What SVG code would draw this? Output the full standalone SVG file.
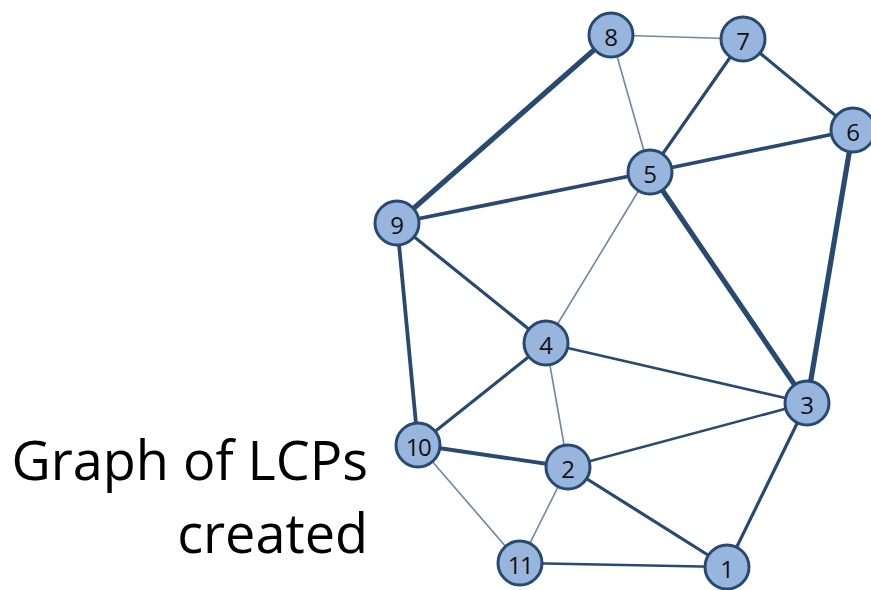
<svg xmlns="http://www.w3.org/2000/svg" width="871" height="590" viewBox="0 0 871 590">
  <style>
    .e { stroke: #284a70; stroke-linecap: round; fill: none; }
    .w1 { stroke: #6c87a8; stroke-width: 1.6; }
    .w2 { stroke-width: 2.6; }
    .w3 { stroke-width: 3.2; }
    .w4 { stroke-width: 3.8; }
    .w5 { stroke-width: 5.2; }
    .node circle { fill: #98b5dd; stroke: #284a70; stroke-width: 3; }
    .node text { font-family: "Open Sans", "Liberation Sans", sans-serif; font-size: 24px; fill: #111; text-anchor: middle; dominant-baseline: central; }
    .label { font-family: "Open Sans", "Liberation Sans", sans-serif; font-size: 54px; fill: #000; text-anchor: end; }
  </style>

  <g id="edges">
    <line class="e w1" x1="611" y1="35" x2="743" y2="39"/>
    <line class="e w5" x1="611" y1="35" x2="397" y2="223"/>
    <line class="e w1" x1="611" y1="35" x2="650" y2="172"/>
    <line class="e w3" x1="743" y1="39" x2="650" y2="172"/>
    <line class="e w3" x1="743" y1="39" x2="853" y2="130"/>
    <line class="e w4" x1="853" y1="130" x2="650" y2="172"/>
    <line class="e w5" x1="853" y1="130" x2="807" y2="403"/>
    <line class="e w4" x1="650" y1="172" x2="397" y2="223"/>
    <line class="e w5" x1="650" y1="172" x2="807" y2="403"/>
    <line class="e w1" x1="650" y1="172" x2="546" y2="343"/>
    <line class="e w3" x1="397" y1="223" x2="546" y2="343"/>
    <line class="e w4" x1="397" y1="223" x2="418" y2="445"/>
    <line class="e w2" x1="546" y1="343" x2="807" y2="403"/>
    <line class="e w3" x1="546" y1="343" x2="418" y2="445"/>
    <line class="e w1" x1="546" y1="343" x2="568" y2="467"/>
    <line class="e w4" x1="418" y1="445" x2="568" y2="467"/>
    <line class="e w1" x1="418" y1="445" x2="520" y2="563"/>
    <line class="e w2" x1="568" y1="467" x2="807" y2="403"/>
    <line class="e w1" x1="568" y1="467" x2="520" y2="563"/>
    <line class="e w3" x1="568" y1="467" x2="727" y2="567"/>
    <line class="e w2" x1="520" y1="563" x2="727" y2="567"/>
    <line class="e w3" x1="807" y1="403" x2="727" y2="567"/>
  </g>

  <g id="n8" class="node"><circle cx="611" cy="35" r="22"/><text x="611" y="36">8</text></g>
  <g id="n7" class="node"><circle cx="743" cy="39" r="22"/><text x="743" y="40">7</text></g>
  <g id="n6" class="node"><circle cx="853" cy="130" r="22"/><text x="853" y="131">6</text></g>
  <g id="n5" class="node"><circle cx="650" cy="172" r="22"/><text x="650" y="173">5</text></g>
  <g id="n9" class="node"><circle cx="397" cy="223" r="22"/><text x="397" y="224">9</text></g>
  <g id="n4" class="node"><circle cx="546" cy="343" r="22"/><text x="546" y="344">4</text></g>
  <g id="n3" class="node"><circle cx="807" cy="403" r="22"/><text x="807" y="404">3</text></g>
  <g id="n10" class="node"><circle cx="418" cy="445" r="22"/><text x="418" y="446" letter-spacing="-1.5">10</text></g>
  <g id="n2" class="node"><circle cx="568" cy="467" r="22"/><text x="568" y="468">2</text></g>
  <g id="n11" class="node"><circle cx="520" cy="563" r="22"/><text x="520" y="564" letter-spacing="-1.5">11</text></g>
  <g id="n1" class="node"><circle cx="727" cy="567" r="22"/><text x="727" y="568">1</text></g>

  <text class="label" x="368" y="480">Graph of LCPs</text>
  <text class="label" x="368" y="553">created</text>
</svg>
